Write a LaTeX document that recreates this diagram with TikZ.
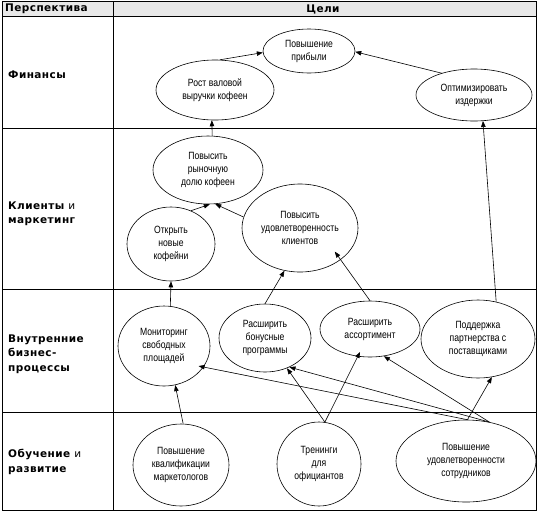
\documentclass[tikz,border=0pt]{standalone}
\usepackage{fontspec}
\setmainfont{Liberation Sans}
\newfontfamily\elfont[FakeStretch=0.82]{Liberation Sans}
\newfontfamily\labfont[LetterSpace=4]{DejaVu Sans}
\usetikzlibrary{shapes.geometric,arrows.meta}
\begin{document}
\begin{tikzpicture}[x=1pt,y=-1pt,
  goal/.style={draw, ellipse, line width=0.6pt, inner sep=0pt, align=center,
    font=\elfont\fontsize{10.5}{13}\selectfont},
  arr/.style={-{Triangle[length=6pt,width=4.5pt]}, line width=0.6pt},
  lab/.style={anchor=west, align=left, inner sep=0pt,
    font=\labfont\bfseries\fontsize{10.5}{14.5}\selectfont},
  grid/.style={line width=1pt}]
\useasboundingbox (0,0) rectangle (538,512);
% header
\fill[black!9] (2.5,1.5) rectangle (536,16);
\draw[grid] (2.5,1.5) rectangle (536,510);
\draw[grid] (2.5,16) -- (536,16);
\draw[grid] (113,1.5) -- (113,510);
\draw[grid] (2.5,128.5) -- (536,128.5);
\draw[grid] (2.5,289.5) -- (536,289.5);
\draw[grid] (2.5,412.5) -- (536,412.5);
\node[lab] (hpersp) at (5,9) {Перспектива};
\node[lab, anchor=center] (hgoal) at (323,9) {Цели};
% row labels
\node[lab] (lfin) at (8,75) {Финансы};
\node[lab] (lcli) at (8,214) {Клиенты {\mdseries и}\\маркетинг};
\node[lab] (lint) at (8,354) {Внутренние\\бизнес-\\процессы};
\node[lab] (ledu) at (8,462) {Обучение {\mdseries и}\\развитие};
% goals
\node[goal, minimum width=92pt, minimum height=44pt] (prib) at (309,51) {Повышение\\прибыли};
\node[goal, minimum width=118pt, minimum height=60pt] (rost) at (215,90) {Рост валовой\\выручки кофеен};
\node[goal, minimum width=116pt, minimum height=52pt] (optim) at (474,95) {Оптимизировать\\издержки};
\node[goal, minimum width=110pt, minimum height=68pt] (dolya) at (208,170) {Повысить\\рыночную\\долю кофеен};
\node[goal, minimum width=88pt, minimum height=74pt] (otkr) at (171,244) {Открыть\\новые\\кофейни};
\node[goal, minimum width=116pt, minimum height=88pt] (udov) at (300,228) {Повысить\\удовлетворенность\\клиентов};
\node[goal, minimum width=92pt, minimum height=80pt] (monit) at (164,346) {Мониторинг\\свободных\\площадей};
\node[goal, minimum width=92pt, minimum height=68pt] (bonus) at (265,338) {Расширить\\бонусные\\программы};
\node[goal, minimum width=100pt, minimum height=56pt] (assort) at (370,329) {Расширить\\ассортимент};
\node[goal, minimum width=114pt, minimum height=78pt] (podd) at (478,339) {Поддержка\\партнерства с\\поставщиками};
\node[goal, minimum width=96pt, minimum height=82pt] (kval) at (181,465) {Повышение\\квалификации\\маркетологов};
\node[goal, minimum width=84pt, minimum height=84pt] (tren) at (319,464) {Тренинги\\для\\официантов};
\node[goal, minimum width=140pt, minimum height=82pt] (sotr) at (466,461) {Повышение\\удовлетворенности\\сотрудников};
% connectors
\draw[arr] (rost.81) -- (prib.182);
\draw[arr] (optim.146) -- (prib.359);
\draw[arr] (dolya.83) -- (rost.264);
\draw[arr] (otkr.59) -- (dolya.273);
\draw[arr] (udov.169) -- (dolya.282);
\draw[arr] (monit.81) -- (otkr.270);
\draw[arr] (bonus.90) -- (udov.250);
\draw[arr, shorten >=-10pt] (assort.90) -- (udov.322);
\draw[arr] (podd.64) -- (optim.289);
\draw[arr] (kval.87) -- (monit.286);
\draw[arr] (tren.82) -- (bonus.306);
\draw[arr, shorten >=-5pt] (tren.82) -- (assort.246);
\draw[arr, shorten >=-5pt] (sotr.88) -- (monit.332);
\draw[arr] (sotr.59) -- (bonus.310);
\draw[arr] (sotr.59) -- (assort.297);
\draw[arr] (sotr.88) -- (podd.290);
\end{tikzpicture}
\end{document}
